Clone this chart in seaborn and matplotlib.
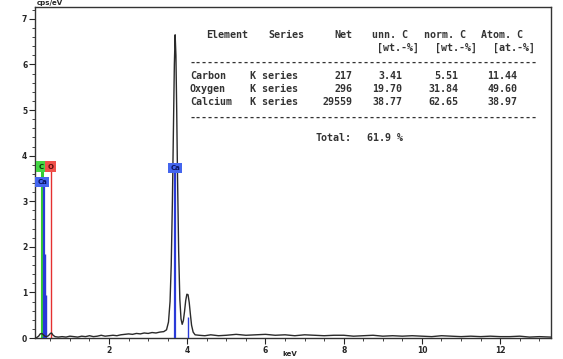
import pandas as pd
import seaborn as sns
import matplotlib.pyplot as plt
import matplotlib.ticker as mticker

sns.set_style('ticks')
plt.rcParams['font.family'] = ['DejaVu Sans']

### Spectrum (keV, cps/eV)
energy_kev = [0.10, 0.15, 0.20, 0.24, 0.28, 0.32, 0.36, 0.40, 0.45, 0.50, 0.53, 0.57, 0.62,
              0.70, 0.80, 0.90, 1.00, 1.10, 1.20, 1.30, 1.40, 1.50, 1.60, 1.70, 1.80, 1.90,
              2.00, 2.10, 2.20, 2.30, 2.40, 2.50, 2.60, 2.70, 2.80, 2.90, 3.00, 3.10, 3.20,
              3.30, 3.40, 3.47, 3.52, 3.56, 3.59, 3.62, 3.65, 3.67, 3.69, 3.71, 3.73, 3.75,
              3.78, 3.81, 3.84, 3.87, 3.90, 3.93, 3.96, 3.99, 4.02, 4.05, 4.08, 4.11, 4.15,
              4.20, 4.30, 4.45, 4.60, 4.80, 5.00, 5.25, 5.50, 5.75, 6.00, 6.25, 6.50, 6.75,
              7.00, 7.25, 7.50, 7.75, 8.00, 8.25, 8.50, 8.75, 9.00, 9.25, 9.50, 9.75, 10.00,
              10.25, 10.50, 10.75, 11.00, 11.25, 11.50, 11.75, 12.00, 12.25, 12.50, 12.75,
              13.00, 13.30]
cps_per_ev = [0.00, 0.01, 0.04, 0.09, 0.10, 0.07, 0.04, 0.03, 0.05, 0.10, 0.11, 0.06, 0.03,
              0.02, 0.03, 0.02, 0.04, 0.03, 0.02, 0.04, 0.03, 0.05, 0.03, 0.04, 0.06, 0.04,
              0.05, 0.06, 0.05, 0.07, 0.08, 0.09, 0.08, 0.10, 0.09, 0.11, 0.10, 0.12, 0.11,
              0.13, 0.14, 0.18, 0.35, 0.80, 1.60, 3.00, 4.80, 6.00, 6.65, 6.20, 5.00, 3.60,
              1.90, 0.85, 0.42, 0.30, 0.38, 0.58, 0.82, 0.96, 0.95, 0.78, 0.52, 0.28, 0.13,
              0.07, 0.06, 0.05, 0.07, 0.05, 0.06, 0.08, 0.06, 0.07, 0.08, 0.06, 0.07, 0.05,
              0.07, 0.06, 0.05, 0.06, 0.06, 0.04, 0.05, 0.06, 0.04, 0.05, 0.04, 0.05, 0.04,
              0.03, 0.05, 0.04, 0.03, 0.04, 0.03, 0.04, 0.03, 0.03, 0.04, 0.02, 0.03, 0.02]

### Element line markers: energy, height
c_lines = [(0.277, 3.75)]
o_lines = [(0.525, 3.75)]
ca_lines = [(0.341, 3.43), (0.36, 1.85), (0.40, 0.95), (3.69, 3.72), (4.01, 0.46)]
labels = [('C', 0.262, 3.76, '#44d544', '#0b3a0b'),
          ('O', 0.505, 3.76, '#f0504a', '#5a0c0c'),
          ('Ca', 0.29, 3.42, '#4466ee', '#0a1460'),
          ('Ca', 3.69, 3.73, '#4466ee', '#0a1460')]

### Quantification table
elements = ['Carbon', 'Oxygen', 'Calcium']
series = ['K series', 'K series', 'K series']
net = ['217', '296', '29559']
unn_c = ['3.41', '19.70', '38.77']
norm_c = ['5.51', '31.84', '62.65']
atom_c = ['11.44', '49.60', '38.97']
total = '61.9 %'

spectrum = pd.DataFrame({'energy': energy_kev, 'cps': cps_per_ev})

### Canvas
W, H = 563, 359
fig = plt.figure(figsize=(W / 100, H / 100), dpi=100)
ax = fig.add_axes([35 / W, 1 - 338 / H, 516 / W, 331 / H])

for m in ['top', 'bottom', 'left', 'right']:
    ax.spines[m].set_linewidth(1)
    ax.spines[m].set_color('#333333')

### Marker lines
for e, h in c_lines:
    ax.vlines(e, 0, h, color='#33cc33', lw=2.2, zorder=2)
for e, h in o_lines:
    ax.vlines(e, 0, h, color='#e53030', lw=1.0, zorder=2)
for e, h in ca_lines:
    ax.vlines(e, 0, h, color='#2a3ad8', lw=1.6 if h > 2 else 1.0, zorder=3)

### Spectrum
sns.lineplot(data=spectrum, x='energy', y='cps', color='#2a2a2a', lw=1.0, ax=ax, zorder=4)

for txt, x, y, fc, tc in labels:
    ax.text(x, y, txt, fontsize=5, fontweight='bold', color=tc, ha='center', va='center',
            zorder=5, bbox=dict(boxstyle='square,pad=0.3', fc=fc, ec='none'))

ax.set_xlim(0.107, 13.3)
ax.set_ylim(0, 7.26)
ax.xaxis.set_major_locator(mticker.MultipleLocator(2))
ax.xaxis.set_minor_locator(mticker.MultipleLocator(0.5))
ax.yaxis.set_major_locator(mticker.MultipleLocator(1))
ax.yaxis.set_minor_locator(mticker.MultipleLocator(0.2))
ax.tick_params(which='major', length=4, width=0.8, labelsize=5.5, pad=1.5, direction='out')
ax.tick_params(which='minor', length=2.2, width=0.6, direction='out')
for lab in ax.get_xticklabels() + ax.get_yticklabels():
    lab.set_fontweight('bold')
ax.set_xlabel('')
ax.set_ylabel('')

fig.text(37 / W, 1 - 3 / H, 'cps/eV', fontsize=5, fontweight='bold', va='center', ha='left')
fig.text(290 / W, 1 - 354 / H, 'keV', fontsize=5, fontweight='bold', va='center', ha='center')

### Table text (monospace)
mono = dict(family='DejaVu Sans Mono', fontsize=7.2, fontweight='bold', color='#333333', va='center')

def put(px, py, s, ha='left'):
    fig.text(px / W, 1 - py / H, s, ha=ha, **mono)

put(206, 35, 'Element')
put(268, 35, 'Series')
put(352, 35, 'Net', ha='right')
put(372, 35, 'unn. C')
put(424, 35, 'norm. C')
put(481, 35, 'Atom. C')
put(377, 48, '[wt.-%]')
put(435, 48, '[wt.-%]')
put(493, 48, '[at.-%]')
put(190, 63, '-' * 58)
for i in range(len(elements)):
    y = 76 + 13 * i
    put(190, y, elements[i])
    put(250, y, series[i])
    put(352, y, net[i], ha='right')
    put(402, y, unn_c[i], ha='right')
    put(458, y, norm_c[i], ha='right')
    put(517, y, atom_c[i], ha='right')
put(190, 118, '-' * 58)
put(315, 138, 'Total:')
put(367, 138, total)

fig.savefig('out.png', dpi=100)
